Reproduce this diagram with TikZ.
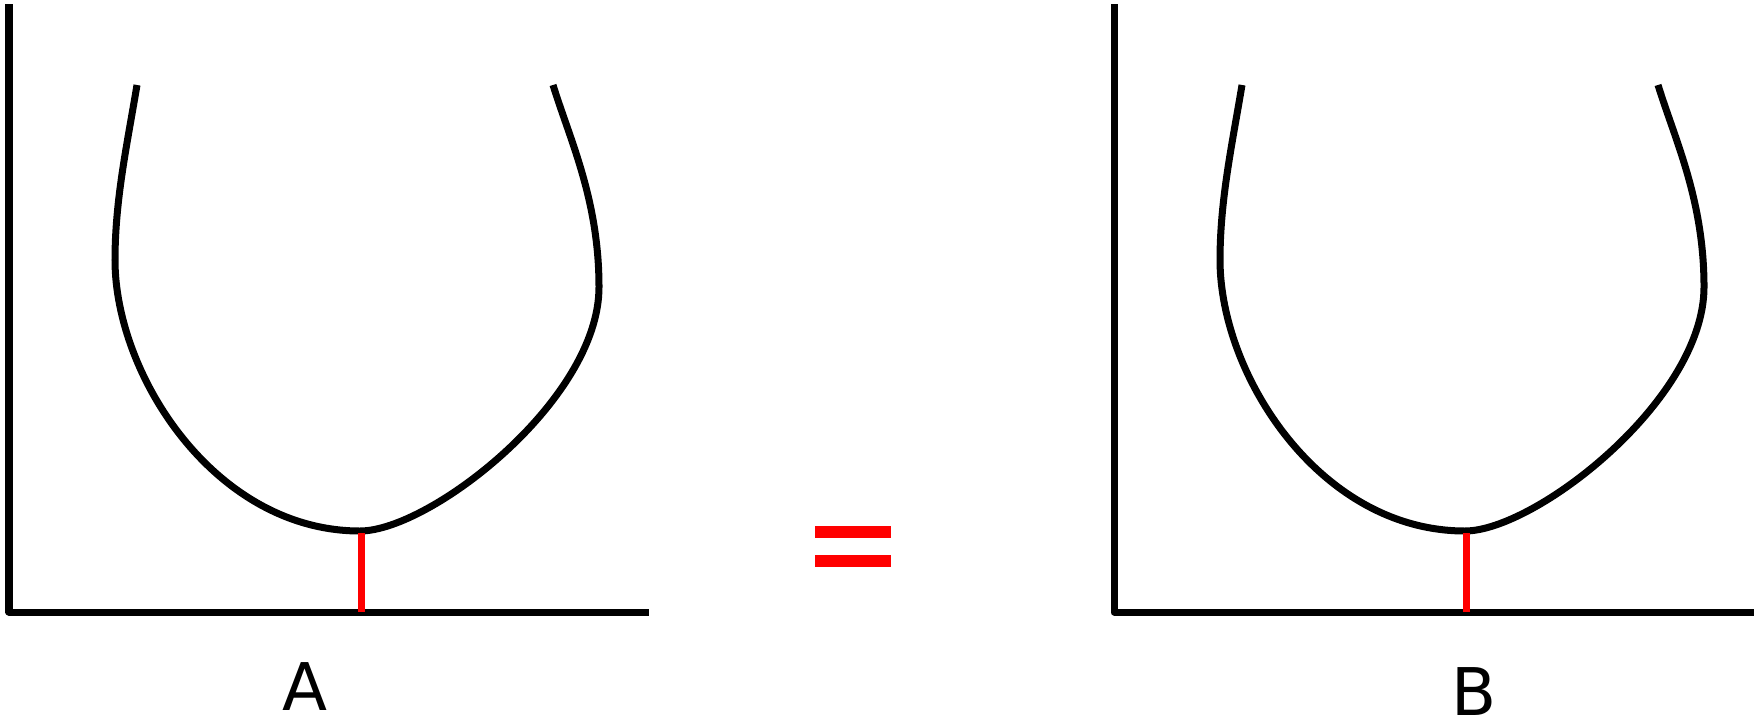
\documentclass[tikz,border=0pt]{standalone}
\usepackage{fontspec}
\setmainfont{DejaVu Sans}
\usetikzlibrary{positioning}
\tikzset{
  axisline/.style={line width=0.07cm, line join=round},
  cupline/.style={line width=0.07cm},
  gapline/.style={draw=red, line width=0.07cm},
  eqbar/.style={fill=red},
  lab/.style={inner sep=0pt, font=\fontsize{18.7}{22}\selectfont},
  pics/cup/.style={code={
    \draw[axisline] (9,4) -- (9,612) -- (649,612);
    \draw[cupline] (137,85) .. controls (127,145) and (115,200) .. (115,260)
      .. controls (115,375) and (215,531) .. (360,531)
      .. controls (430,531) and (599,400) .. (599,287)
      .. controls (599,200) and (570,140) .. (553,85);
    \draw[gapline] (361,533) -- (361,612);
  }},
}

\begin{document}
\begin{tikzpicture}[x=0.01cm, y=-0.01cm]
\useasboundingbox (0,0) rectangle (1761,718);
\pic at (0,0) {cup};
\pic at (1105,0) {cup};
% equals sign between the two
\fill[eqbar] (815,526) rectangle (891,538);
\fill[eqbar] (815,555) rectangle (891,567);
\node[lab] (labA) at (305,687) {A};
\node[lab] (labB) at (1474,692) {B};
\end{tikzpicture}
\end{document}
